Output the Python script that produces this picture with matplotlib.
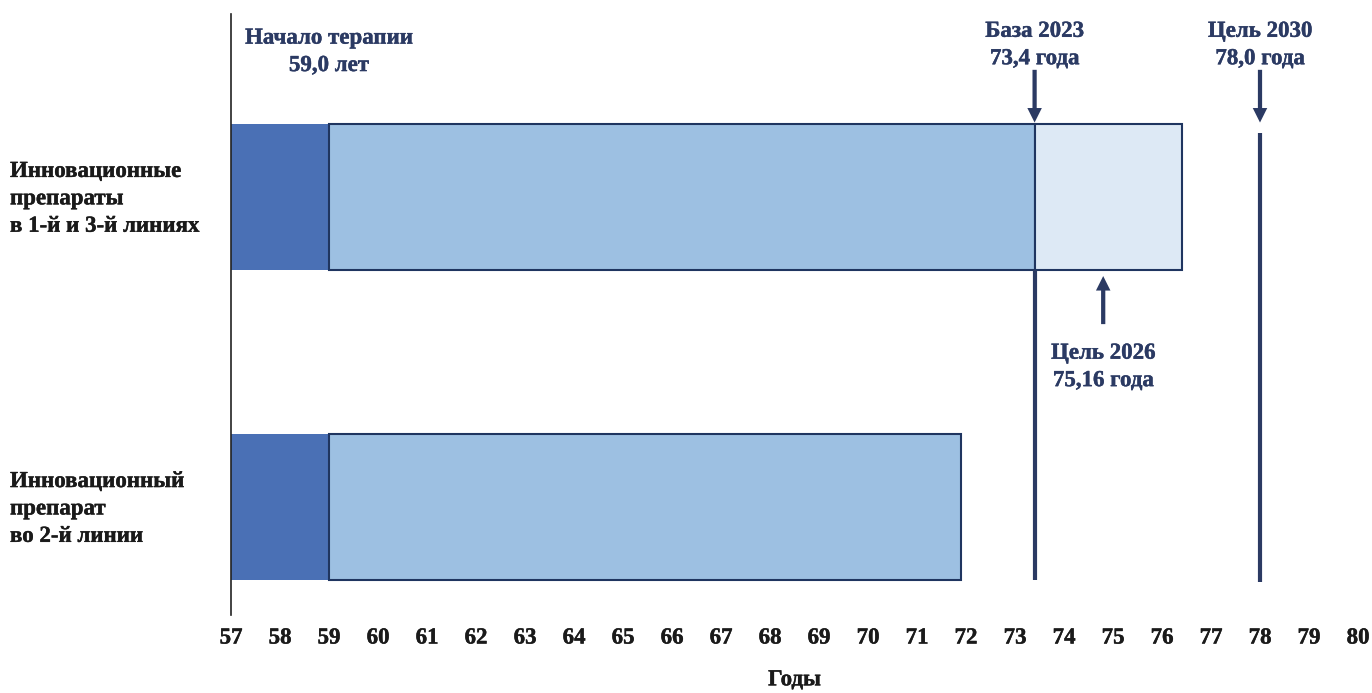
import numpy as np
import matplotlib
matplotlib.use('Agg')
import matplotlib.pyplot as plt
import matplotlib.transforms as mtrans
import matplotlib.patheffects as pe

plt.rcParams['font.family'] = ['Liberation Serif', 'DejaVu Serif']
plt.rcParams['font.weight'] = 'bold'

# data
categories = ['Инновационные\nпрепараты\nв 1-й и 3-й линиях',
              'Инновационный\nпрепарат\nво 2-й линии']
ypos = [1, 0]
x_start = 57.0
therapy_start = 59.0
base_end = [73.4, 71.9]
target_2026 = 76.4
base_2023 = 73.4
goal_2026_mark = 74.8
goal_2030 = 78.0
xticks = list(range(57, 81))

NAVY = '#2B3A63'
EDGE = '#1F3560'
DARK = '#4A70B5'
LIGHT = '#9DC0E2'
PALE = '#DDE9F5'
TXT = '#1a1a1a'
FS = 16.5
H = 0.47

def heavy(c):
    return [pe.withStroke(linewidth=0.3, foreground=c)]

fig = plt.figure(figsize=(13.72, 6.93), dpi=100)
ax = fig.add_axes([231/1372, 1-615/693, (1358-231)/1372, (615-14)/693])

for y, end in zip(ypos, base_end):
    ax.barh(y, therapy_start - x_start, left=x_start, height=H, color=DARK, linewidth=0)
    ax.barh(y, end - therapy_start, left=therapy_start, height=H, color=LIGHT,
            edgecolor=EDGE, linewidth=1.5)
# extension to 2026 goal for first row
ax.barh(ypos[0], target_2026 - base_end[0], left=base_end[0], height=H, color=PALE,
        edgecolor=EDGE, linewidth=1.5)

# vertical markers
ax.plot([base_2023, base_2023], [ypos[0] - H/2, ypos[1] - H/2], color=NAVY, lw=3, solid_capstyle='butt')
ax.plot([goal_2030, goal_2030], [ypos[0] + 0.206, ypos[1] - 0.242], color=NAVY, lw=3, solid_capstyle='butt')

arrow = dict(arrowstyle='simple,head_width=0.55,head_length=0.55,tail_width=0.16',
             lw=0, color=NAVY, mutation_scale=19, shrinkA=0, shrinkB=0)
ax.annotate('', xy=(base_2023, ypos[0] + H/2 + 0.005), xytext=(base_2023, 1.41), arrowprops=arrow)
ax.annotate('', xy=(goal_2030, ypos[0] + H/2 + 0.005), xytext=(goal_2030, 1.41), arrowprops=arrow)
ax.annotate('', xy=(goal_2026_mark, ypos[0] - H/2 - 0.02), xytext=(goal_2026_mark, 0.59), arrowprops=arrow)

# annotation texts
notes = [(therapy_start, 1.468, 'Начало терапии\n59,0 лет'),
         (base_2023, 1.49, 'База 2023\n73,4 года'),
         (goal_2030, 1.49, 'Цель 2030\n78,0 года'),
         (goal_2026_mark, 0.452, 'Цель 2026\n75,16 года')]
for x, y, s in notes:
    ax.text(x, y, s, ha='center', va='center', fontsize=FS, color=NAVY,
            fontweight='bold', linespacing=1.4, path_effects=heavy(NAVY))

# category labels
tr = mtrans.blended_transform_factory(fig.transFigure, ax.transData)
for y, lab in zip(ypos, categories):
    ax.text(10/1372, y - 0.006, lab, transform=tr, ha='left', va='center', fontsize=FS,
            color=TXT, fontweight='bold', linespacing=1.4, path_effects=heavy(TXT))

ax.set_xlim(57, 80)
ax.set_ylim(-0.348, 1.59)
ax.set_xticks(xticks)
ax.set_xticklabels([str(t) for t in xticks], fontsize=FS, fontweight='bold', color=TXT,
                   path_effects=heavy(TXT))
ax.tick_params(axis='x', length=0, pad=9)
ax.set_yticks([])
for s in ['top', 'right', 'bottom']:
    ax.spines[s].set_visible(False)
ax.spines['left'].set_linewidth(1.2)
ax.spines['left'].set_color('#222222')
ax.set_xlabel('Годы', fontsize=FS, fontweight='bold', color=TXT, labelpad=15,
              path_effects=heavy(TXT))

fig.savefig('out.png', dpi=100)
